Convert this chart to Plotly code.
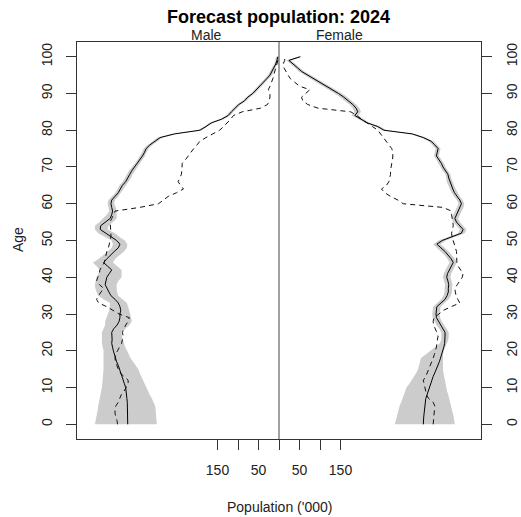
import plotly.graph_objects as go

ages = list(range(101))

male_mean = [
    369, 369, 370, 370, 369, 369, 370, 371, 372, 373,
    374, 377, 380, 383, 386, 388, 392, 396, 399, 401,
    404, 406, 408, 407, 408, 408, 403, 395, 390, 388,
    388, 386, 388, 392, 400, 410, 415, 420, 424, 422,
    420, 414, 408, 418, 428, 420, 412, 402, 392, 388,
    396, 410, 422, 436, 435, 422, 412, 408, 406, 408,
    410, 408, 400, 392, 387, 382, 374, 368, 364, 359,
    352, 345, 339, 333, 328, 324, 315, 302, 290, 255,
    193, 178, 165, 140, 124, 116, 108, 98, 84, 76,
    64, 55, 46, 38, 30, 22, 17, 12, 8, 5,
    3]
male_hi = [
    449, 447, 445, 443, 442, 441, 439, 437, 435, 433,
    432, 431, 430, 429, 428, 428, 428, 428, 428, 428,
    428, 430, 432, 432, 432, 432, 428, 424, 424, 420,
    416, 414, 413, 412, 428, 441, 445, 448, 449, 447,
    445, 440, 437, 445, 454, 440, 428, 418, 408, 405,
    408, 425, 441, 449, 449, 438, 428, 420, 414, 416,
    418, 416, 408, 399, 394, 389, 381, 375, 371, 366,
    358, 351, 345, 339, 334, 330, 321, 308, 296, 260,
    198, 183, 170, 145, 129, 121, 113, 103, 89, 81,
    69, 60, 51, 43, 35, 27, 22, 16, 12, 9,
    8]
male_lo = [
    298, 299, 300, 300, 301, 302, 306, 310, 315, 319,
    323, 327, 332, 336, 340, 343, 350, 356, 362, 367,
    371, 375, 378, 381, 383, 384, 375, 365, 359, 361,
    363, 365, 368, 371, 380, 392, 395, 396, 396, 392,
    384, 384, 384, 395, 405, 400, 388, 378, 371, 370,
    376, 390, 400, 418, 416, 405, 396, 396, 396, 398,
    402, 400, 392, 385, 380, 375, 367, 361, 357, 352,
    346, 339, 333, 327, 322, 318, 309, 296, 284, 250,
    188, 173, 160, 135, 119, 111, 103, 93, 79, 71,
    59, 50, 41, 33, 25, 17, 12, 8, 4, 1,
    0]
male_prev = [
    394, 395, 398, 400, 400, 398, 392, 388, 385, 378,
    372, 368, 368, 378, 388, 392, 396, 399, 400, 398,
    394, 389, 384, 382, 380, 382, 378, 374, 368, 365,
    390, 405, 420, 440, 445, 440, 434, 428, 438, 445,
    442, 438, 437, 432, 426, 424, 422, 420, 416, 414,
    412, 410, 410, 411, 412, 412, 408, 404, 400, 340,
    294, 282, 270, 250, 233, 240, 246, 242, 238, 237,
    236, 236, 228, 222, 215, 208, 200, 193, 178, 160,
    145, 135, 126, 118, 111, 90, 45, 28, 24, 22,
    22, 26, 22, 18, 15, 13, 10, 7, 5, 3,
    2]

female_mean = [
    352, 352, 353, 354, 355, 355, 356, 358, 361, 364,
    367, 370, 372, 376, 380, 384, 388, 391, 394, 397,
    399, 402, 404, 405, 405, 405, 400, 393, 388, 384,
    383, 384, 385, 395, 405, 410, 413, 413, 414, 412,
    409, 411, 415, 420, 425, 420, 413, 405, 395, 385,
    398, 420, 445, 449, 440, 433, 429, 433, 437, 442,
    445, 441, 434, 428, 424, 420, 416, 414, 412, 405,
    400, 396, 390, 384, 386, 388, 380, 371, 352, 325,
    256, 241, 215, 201, 185, 192, 188, 180, 170, 158,
    145, 130, 115, 100, 85, 70, 55, 45, 35, 24,
    52]
female_hi = [
    429, 428, 426, 424, 422, 420, 418, 416, 413, 410,
    408, 406, 404, 403, 401, 400, 400, 400, 400, 400,
    402, 406, 410, 413, 414, 414, 409, 402, 397, 393,
    392, 393, 394, 404, 414, 419, 422, 422, 423, 421,
    418, 420, 424, 429, 434, 429, 422, 414, 404, 394,
    407, 428, 453, 457, 448, 441, 437, 441, 445, 450,
    452, 448, 441, 435, 431, 427, 423, 420, 418, 411,
    406, 402, 396, 390, 392, 394, 386, 377, 358, 331,
    262, 247, 221, 208, 193, 200, 196, 188, 178, 167,
    154, 139, 123, 108, 93, 77, 62, 51, 41, 30,
    56]
female_lo = [
    282, 285, 288, 290, 292, 294, 298, 301, 304, 308,
    311, 318, 324, 330, 335, 339, 342, 344, 346, 356,
    367, 380, 392, 396, 396, 396, 391, 384, 379, 375,
    374, 375, 376, 386, 396, 401, 404, 404, 405, 403,
    400, 402, 406, 411, 416, 411, 404, 396, 386, 376,
    389, 412, 437, 441, 432, 425, 421, 425, 429, 434,
    438, 434, 427, 421, 417, 413, 409, 408, 406, 399,
    394, 390, 384, 378, 380, 382, 374, 365, 346, 319,
    250, 235, 209, 194, 177, 184, 180, 172, 162, 149,
    136, 121, 107, 92, 77, 63, 48, 39, 29, 18,
    44]
female_prev = [
    376, 377, 378, 378, 379, 380, 376, 365, 360, 358,
    356, 353, 352, 358, 362, 366, 370, 373, 376, 379,
    382, 384, 385, 386, 388, 385, 380, 377, 376, 378,
    390, 401, 420, 441, 436, 432, 430, 429, 435, 442,
    447, 449, 443, 437, 434, 433, 433, 433, 430, 427,
    424, 422, 421, 423, 425, 424, 422, 421, 421, 400,
    303, 290, 272, 258, 250, 262, 268, 270, 272, 272,
    273, 275, 277, 278, 278, 275, 268, 262, 255, 248,
    241, 228, 214, 201, 190, 175, 95, 70, 58, 55,
    65, 75, 50, 38, 28, 22, 17, 12, 10, 14,
    14]

age_ticks = list(range(0, 101, 10))
pop_tickvals = [-150, -100, -50, 0, 50, 100, 150]
pop_ticktext = ["150", "", "50", "", "50", "", "150"]

title_text = "Forecast population: 2024"
xlab = "Population ('000)"
ylab = "Age"

FONT = "Liberation Sans, Arial, sans-serif"
BAND = "#CCCCCC"

fig = go.Figure()


def neg(v):
    return [-a for a in v]


# prediction bands
fig.add_trace(go.Scatter(
    x=neg(male_hi) + neg(male_lo)[::-1], y=ages + ages[::-1],
    fill="toself", fillcolor=BAND, line=dict(width=0), mode="lines",
    hoverinfo="skip", showlegend=False))
fig.add_trace(go.Scatter(
    x=female_hi + female_lo[::-1], y=ages + ages[::-1],
    fill="toself", fillcolor=BAND, line=dict(width=0), mode="lines",
    hoverinfo="skip", showlegend=False))

# earlier population (dashed)
fig.add_trace(go.Scatter(x=neg(male_prev), y=ages, mode="lines",
                         line=dict(color="#111111", width=1, dash="5px,4px"),
                         showlegend=False))
fig.add_trace(go.Scatter(x=female_prev, y=ages, mode="lines",
                         line=dict(color="#111111", width=1, dash="5px,4px"),
                         showlegend=False))

# forecast mean (solid)
fig.add_trace(go.Scatter(x=neg(male_mean), y=ages, mode="lines",
                         line=dict(color="#000000", width=1), showlegend=False))
fig.add_trace(go.Scatter(x=female_mean, y=ages, mode="lines",
                         line=dict(color="#000000", width=1), showlegend=False))

# dummy trace for right-hand axis
fig.add_trace(go.Scatter(x=[0], y=[50], yaxis="y2", mode="markers",
                         marker=dict(opacity=0), hoverinfo="skip",
                         showlegend=False))

L, R, T, B = 77, 40, 42, 78
W, H = 521, 517
pw, ph = W - L - R, H - T - B


def px(xp):
    return (xp - L) / pw


def py(yp):
    return (H - B - yp) / ph


fig.add_shape(type="line", xref="x", yref="paper", x0=0, x1=0, y0=0, y1=1,
              line=dict(color="#444444", width=1))

fig.update_layout(
    width=W, height=H, autosize=False,
    margin=dict(l=L, r=R, t=T, b=B, autoexpand=False),
    paper_bgcolor="white", plot_bgcolor="white",
    font=dict(family=FONT, size=14, color="#222222"),
    xaxis=dict(range=[-492.7, 492.7], tickvals=pop_tickvals,
               ticktext=pop_ticktext, ticks="outside", ticklen=10,
               tickcolor="#333333", showline=True, mirror=True,
               linecolor="#333333", linewidth=1, showgrid=False,
               zeroline=False, ticklabelstandoff=8, automargin=False),
    yaxis=dict(range=[-4, 104], tickvals=age_ticks, ticks="outside",
               ticklen=10, tickcolor="#333333", tickangle=-90,
               showline=True, mirror=True, linecolor="#333333",
               linewidth=1, showgrid=False, zeroline=False,
               ticklabelstandoff=8, automargin=False),
    yaxis2=dict(range=[-4, 104], tickvals=age_ticks, ticks="outside",
                ticklen=10, tickcolor="#333333", tickangle=-90,
                overlaying="y", side="right", showline=False,
                showgrid=False, zeroline=False, ticklabelstandoff=8,
                automargin=False),
    annotations=[
        dict(text="<b>" + title_text + "</b>", x=px(278), y=py(17),
             xref="paper", yref="paper", showarrow=False,
             xanchor="center", yanchor="middle",
             font=dict(size=18, color="#000000")),
        dict(text="Male", x=px(206), y=py(35), xref="paper", yref="paper",
             showarrow=False, xanchor="center", yanchor="middle"),
        dict(text="Female", x=px(339), y=py(35), xref="paper", yref="paper",
             showarrow=False, xanchor="center", yanchor="middle"),
        dict(text=ylab, x=px(18), y=py(240), xref="paper", yref="paper",
             showarrow=False, xanchor="center", yanchor="middle",
             textangle=-90),
        dict(text=xlab, x=px(279), y=py(507), xref="paper", yref="paper",
             showarrow=False, xanchor="center", yanchor="middle"),
    ],
)

fig.write_html(
    "out.html",
    config={"responsive": False, "displayModeBar": False},
    post_script="document.body.style.margin='0';document.body.style.overflow='hidden';",
)
